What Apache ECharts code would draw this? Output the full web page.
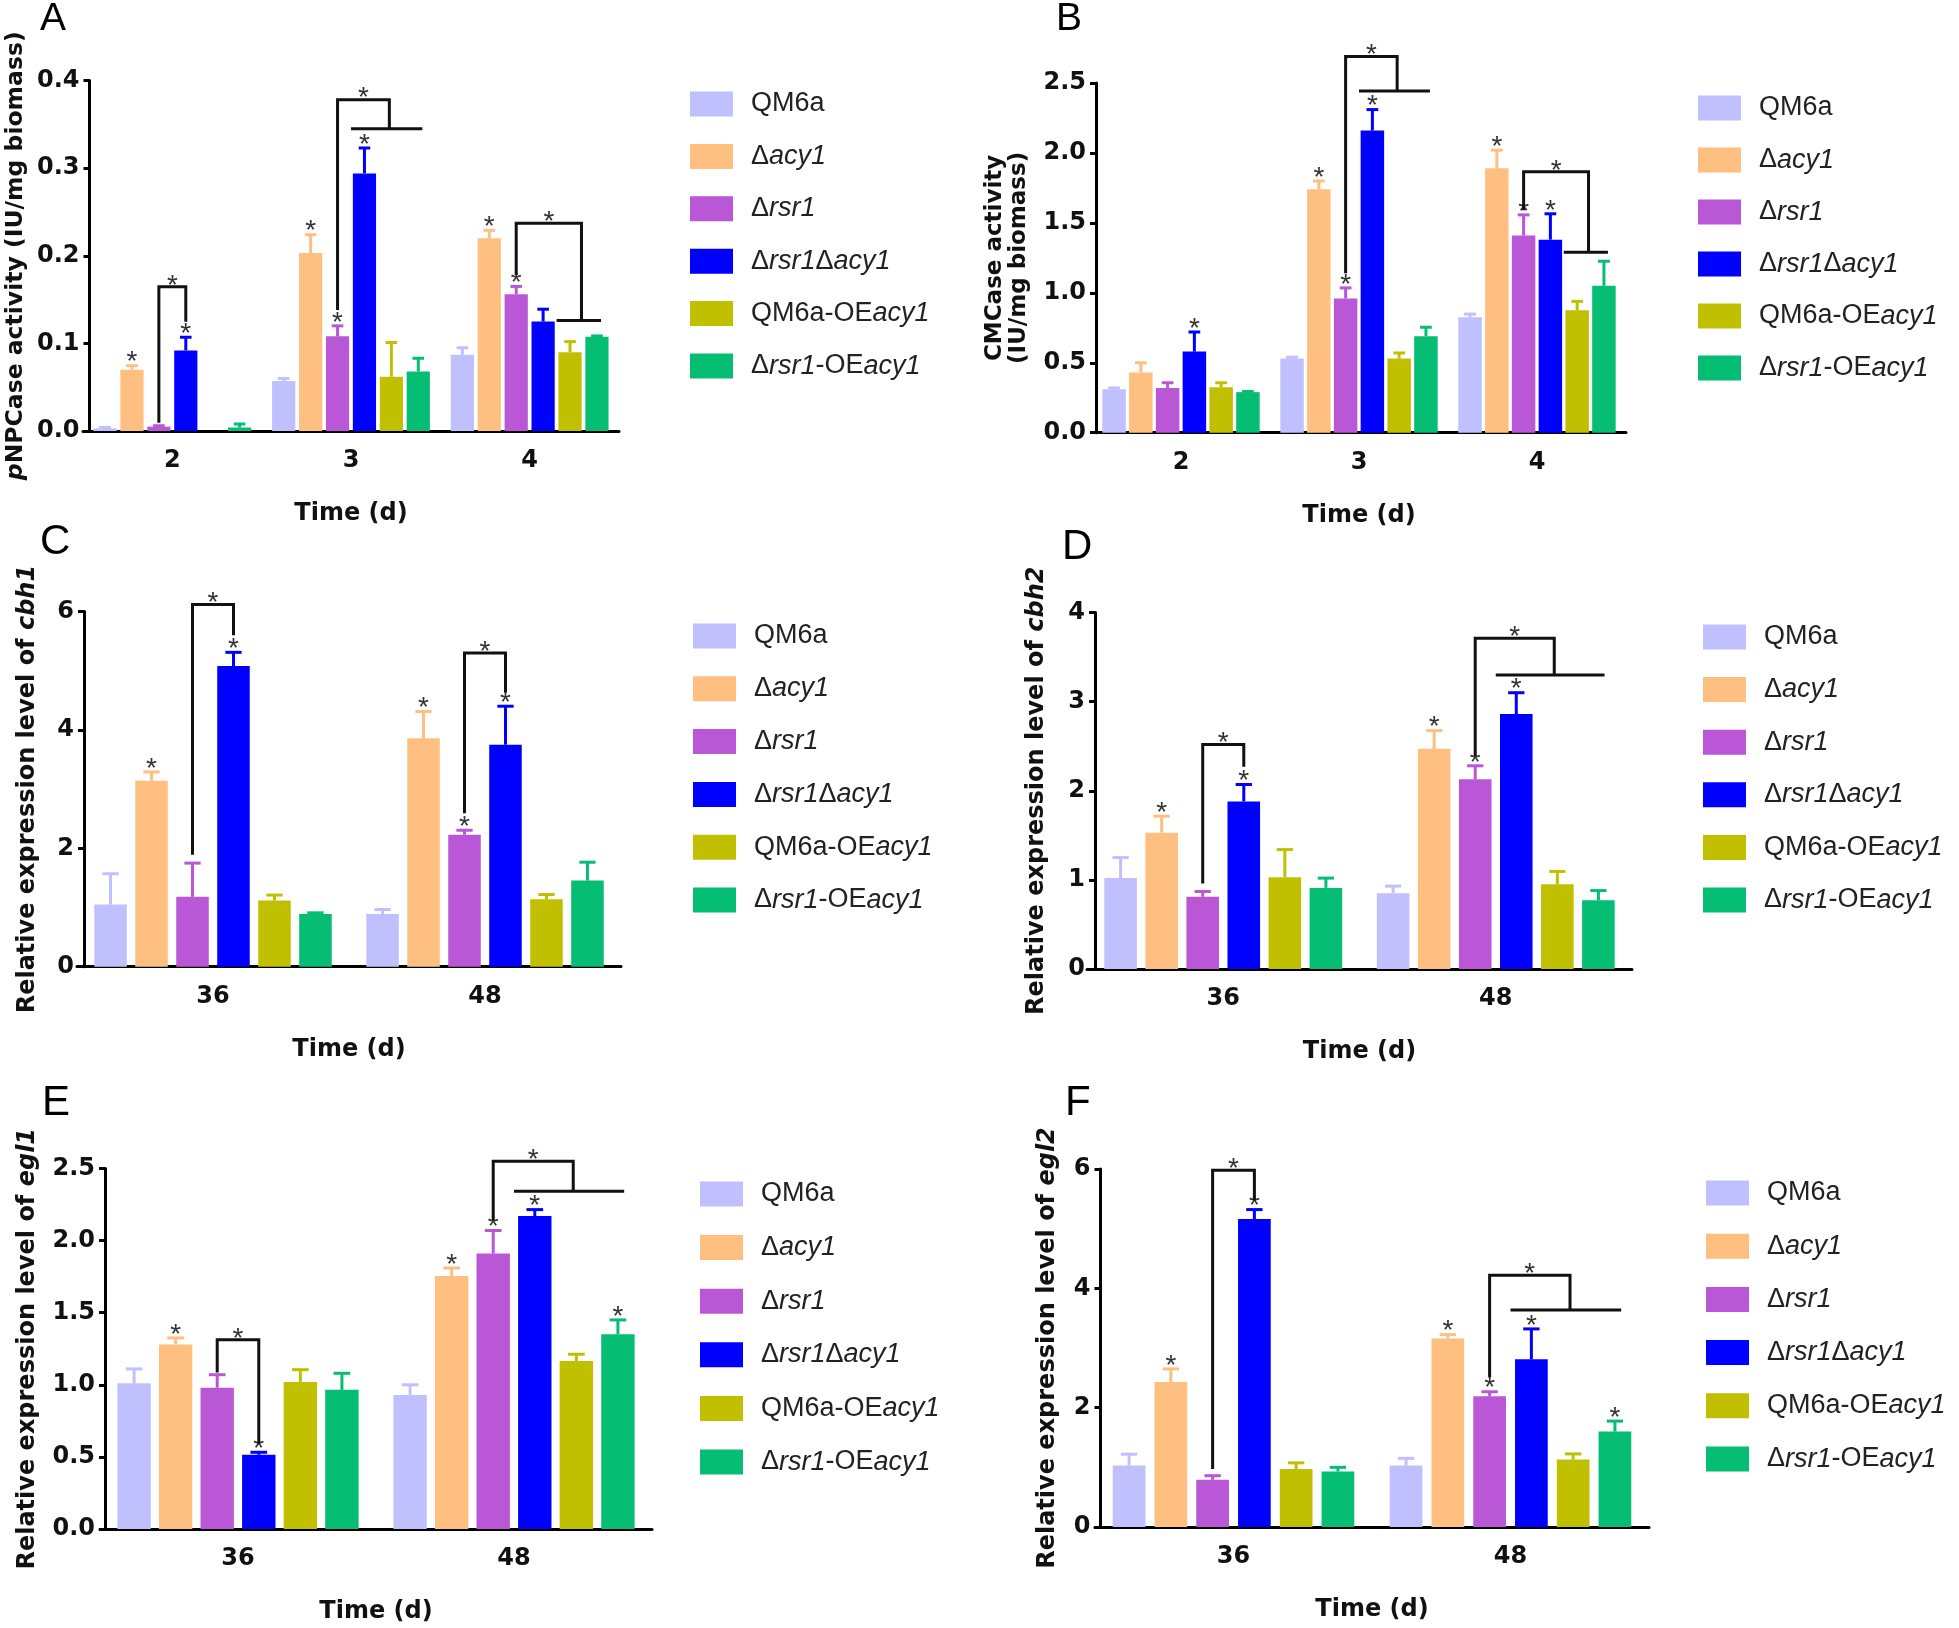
<!DOCTYPE html>
<html><head><meta charset="utf-8">
<script src="https://cdn.jsdelivr.net/npm/echarts@6/dist/echarts.min.js"></script>
<style>html,body{margin:0;padding:0;background:#fff}#c{width:1959px;height:1628px}</style>
</head><body><div id="c"></div>
<script>
// ---------- shared ----------
const SERIES = ['QM6a','Δacy1','Δrsr1','Δrsr1Δacy1','QM6a-OEacy1','Δrsr1-OEacy1'];
const COLORS = ['#C0C0FF','#FFBF80','#B957D7','#0000FF','#C0C000','#05BE74'];
const X_NAME = 'Time (d)';

// ---------- Panel A: pNPCase ----------
const A_categories = ['2','3','4'];
const A_means = [
  [0.003, 0.057, 0.087],
  [0.070, 0.203, 0.220],
  [0.005, 0.108, 0.156],
  [0.092, 0.294, 0.125],
  [0.000, 0.062, 0.090],
  [0.004, 0.068, 0.1075]
];
const A_sd = [
  [0.001, 0.003, 0.008],
  [0.0045, 0.021, 0.009],
  [0.001, 0.012, 0.009],
  [0.015, 0.029, 0.014],
  [0.000, 0.039, 0.012],
  [0.004, 0.015, 0.001]
];
const A_stars = [[0,1],[0,3],[1,1],[1,2],[1,3],[2,1],[2,2]];
const A_brackets = [
  {cat:0, from:2, to:3, top:0.1645, y1:0.0095, y2:0.1246},
  {cat:1, from:2, group:[3,5], top:0.378, y1:0.138, y2:0.345},
  {cat:2, from:2, group:[4,5], top:0.237, y1:0.178, y2:0.126}
];

// ---------- Panel B: CMCase ----------
const B_categories = ['2','3','4'];
const B_means = [
  [0.31, 0.53, 0.825],
  [0.43, 1.74, 1.89],
  [0.32, 0.96, 1.41],
  [0.58, 2.16, 1.38],
  [0.325, 0.53, 0.875],
  [0.29, 0.69, 1.05]
];
const B_sd = [
  [0.01, 0.01, 0.023],
  [0.07, 0.06, 0.13],
  [0.037, 0.075, 0.147],
  [0.14, 0.15, 0.185],
  [0.032, 0.04, 0.064],
  [0.005, 0.064, 0.176]
];
const B_stars = [[0,3],[1,1],[1,2],[1,3],[2,1],[2,2],[2,3]];
const B_brackets = [
  {cat:1, from:2, group:[3,5], top:2.69, y1:1.14, y2:2.443},
  {cat:2, from:2, group:[4,5], top:1.865, y1:1.59, y2:1.29}
];

// ---------- Panel C: cbh1 ----------
const C_categories = ['36','48'];
const C_means = [
  [1.05, 0.89],
  [3.14, 3.86],
  [1.18, 2.23],
  [5.08, 3.75],
  [1.12, 1.14],
  [0.89, 1.455]
];
const C_sd = [
  [0.52, 0.076],
  [0.15, 0.45],
  [0.57, 0.075],
  [0.23, 0.65],
  [0.09, 0.08],
  [0.02, 0.31]
];
const C_stars = [[0,1],[0,3],[1,1],[1,2],[1,3]];
const C_brackets = [
  {cat:0, from:2, to:3, top:6.12, y1:1.89, y2:5.6},
  {cat:1, from:2, to:3, top:5.30, y1:2.59, y2:4.63}
];

// ---------- Panel D: cbh2 ----------
const D_categories = ['36','48'];
const D_means = [
  [1.02, 0.85],
  [1.53, 2.47],
  [0.81, 2.13],
  [1.88, 2.86],
  [1.03, 0.95],
  [0.91, 0.77]
];
const D_sd = [
  [0.23, 0.08],
  [0.185, 0.205],
  [0.06, 0.15],
  [0.19, 0.24],
  [0.31, 0.145],
  [0.11, 0.11]
];
const D_stars = [[0,1],[0,3],[1,1],[1,2],[1,3]];
const D_brackets = [
  {cat:0, from:2, to:3, top:2.52, y1:0.96, y2:2.27},
  {cat:1, from:2, group:[3,5], top:3.71, y1:2.39, y2:3.30}
];

// ---------- Panel E: egl1 ----------
const E_categories = ['36','48'];
const E_means = [
  [1.01, 0.93],
  [1.28, 1.755],
  [0.98, 1.91],
  [0.515, 2.17],
  [1.02, 1.165],
  [0.965, 1.35]
];
const E_sd = [
  [0.10, 0.07],
  [0.045, 0.055],
  [0.09, 0.16],
  [0.017, 0.045],
  [0.085, 0.047],
  [0.115, 0.10]
];
const E_stars = [[0,1],[0,3],[1,1],[1,2],[1,3],[1,5]];
const E_brackets = [
  {cat:0, from:2, to:3, top:1.312, y1:1.086, y2:0.588},
  {cat:1, from:2, group:[3,5], top:2.551, y1:2.143, y2:2.342}
];

// ---------- Panel F: egl2 ----------
const F_categories = ['36','48'];
const F_means = [
  [1.03, 1.03],
  [2.43, 3.16],
  [0.79, 2.19],
  [5.16, 2.81],
  [0.97, 1.13],
  [0.93, 1.6]
];
const F_sd = [
  [0.19, 0.12],
  [0.22, 0.065],
  [0.07, 0.077],
  [0.16, 0.51],
  [0.105, 0.095],
  [0.07, 0.175]
];
const F_stars = [[0,1],[0,3],[1,1],[1,2],[1,3],[1,5]];
const F_brackets = [
  {cat:0, from:2, to:3, top:5.98, y1:0.97, y2:5.47},
  {cat:1, from:2, group:[3,5], top:4.22, y1:2.51, y2:3.635}
];

// ---------- layout ----------
const FONT = "'Liberation Sans', Arial, Helvetica, sans-serif";
const AXFONT = "'DejaVu Sans', Verdana, sans-serif";
const panels = [
  {letter:'A', cats:A_categories, means:A_means, sd:A_sd, stars:A_stars, brackets:A_brackets,
   yMax:0.4, yStep:0.1, dec:1, yName:'{i|p}NPCase activity (IU/mg biomass)', yGap:62, yFs:23.5, yOff:-6.5,
   grid:{left:83, top:80.5, width:536, height:350.5}, cg:0.117, bg:0.16,
   legend:{left:690, top:90.5, gap:25.4}, lp:{left:40, top:0, fs:39}},
  {letter:'B', cats:B_categories, means:B_means, sd:B_sd, stars:B_stars, brackets:B_brackets,
   yMax:2.5, yStep:0.5, dec:1, yName:'CMCase activity\n(IU/mg biomass)', yGap:65, yFs:23, yOff:-4,
   grid:{left:1092, top:83, width:534, height:349.7}, cg:0.116, bg:0.14,
   legend:{left:1698, top:94.5, gap:25}, lp:{left:1056, top:0, fs:39}},
  {letter:'C', cats:C_categories, means:C_means, sd:C_sd, stars:C_stars, brackets:C_brackets,
   yMax:6, yStep:2, dec:0, yName:'Relative expression level of {i|cbh1}', yGap:44, yFs:24, yOff:-7,
   grid:{left:77, top:611.5, width:544, height:355.2}, cg:0.127, bg:0.26,
   legend:{left:693, top:622.5, gap:25.8}, lp:{left:40, top:521, fs:42}},
  {letter:'D', cats:D_categories, means:D_means, sd:D_sd, stars:D_stars, brackets:D_brackets,
   yMax:4, yStep:1, dec:0, yName:'Relative expression level of {i|cbh2}', yGap:46, yFs:24, yOff:-8,
   grid:{left:1087, top:612.5, width:545, height:356.5}, cg:0.127, bg:0.26,
   legend:{left:1703, top:623.5, gap:25.6}, lp:{left:1062, top:526, fs:42}},
  {letter:'E', cats:E_categories, means:E_means, sd:E_sd, stars:E_stars, brackets:E_brackets,
   yMax:2.5, yStep:0.5, dec:1, yName:'Relative expression level of {i|egl1}', yGap:65, yFs:24, yOff:-5,
   grid:{left:100, top:1168.5, width:552, height:360.5}, cg:0.126, bg:0.245,
   legend:{left:700, top:1180.5, gap:26.6}, lp:{left:42, top:1082, fs:42}},
  {letter:'F', cats:F_categories, means:F_means, sd:F_sd, stars:F_stars, brackets:F_brackets,
   yMax:6, yStep:2, dec:0, yName:'Relative expression level of {i|egl2}', yGap:41, yFs:24, yOff:-5.5,
   grid:{left:1095, top:1169, width:554, height:358}, cg:0.128, bg:0.277,
   legend:{left:1706, top:1179.5, gap:26.2}, lp:{left:1065, top:1082, fs:42}}
];

const LEGEND_FMT = {
  'QM6a': '{n|QM6a}',
  'Δacy1': '{n|Δ}{i|acy1}',
  'Δrsr1': '{n|Δ}{i|rsr1}',
  'Δrsr1Δacy1': '{n|Δ}{i|rsr1}{n|Δ}{i|acy1}',
  'QM6a-OEacy1': '{n|QM6a-OE}{i|acy1}',
  'Δrsr1-OEacy1': '{n|Δ}{i|rsr1}{n|-OE}{i|acy1}'
};

const option = {
  animation:false, backgroundColor:'#fff',
  title:[], grid:[], xAxis:[], yAxis:[], legend:[], series:[]
};

panels.forEach((p, pi) => {
  option.title.push({text:p.letter, left:p.lp.left, top:p.lp.top, padding:0,
    textStyle:{fontSize:p.lp.fs, fontWeight:'normal', color:'#000', fontFamily:FONT}});
  option.grid.push(Object.assign({containLabel:false}, p.grid));
  option.xAxis.push({
    type:'category', gridIndex:pi, data:p.cats,
    axisLine:{lineStyle:{color:'#000', width:3}},
    axisTick:{alignWithLabel:true, length:8, lineStyle:{color:'#000', width:3}},
    axisLabel:{fontSize:24, fontWeight:'bold', color:'#111', margin:18, fontFamily:AXFONT},
    name:X_NAME, nameLocation:'middle', nameGap:71, nameMoveOverlap:false,
    nameTextStyle:{fontSize:24, fontWeight:'bold', color:'#111', fontFamily:AXFONT}
  });
  option.yAxis.push({
    type:'value', gridIndex:pi, min:0, max:p.yMax, interval:p.yStep, offset:p.yOff,
    axisLine:{show:true, lineStyle:{color:'#000', width:3}},
    axisTick:{show:true, length:6, lineStyle:{color:'#000', width:3}},
    splitLine:{show:false},
    axisLabel:{fontSize:24, fontWeight:'bold', color:'#111', margin:10, fontFamily:AXFONT,
      formatter: v => v.toFixed(p.dec)},
    name:p.yName, nameLocation:'middle', nameGap:p.yGap, nameMoveOverlap:false,
    nameTextStyle:{fontSize:p.yFs, fontWeight:'bold', color:'#111', fontFamily:AXFONT, lineHeight:24,
      rich:{i:{fontSize:p.yFs, fontWeight:'bold', fontStyle:'italic', color:'#111', fontFamily:AXFONT, lineHeight:24}}}
  });
  option.legend.push({
    orient:'vertical', left:p.legend.left, top:p.legend.top, padding:0,
    itemWidth:43, itemHeight:25, itemGap:p.legend.gap, icon:'rect', selectedMode:false,
    data:SERIES.slice(),
    formatter: name => LEGEND_FMT[name],
    textStyle:{fontSize:27, color:'#222', fontFamily:FONT, padding:[0,0,0,13], lineHeight:25,
      rich:{
        n:{fontSize:27, color:'#222', fontFamily:FONT, lineHeight:25},
        i:{fontSize:27, color:'#222', fontFamily:FONT, fontStyle:'italic', lineHeight:25}
      }}
  });
  SERIES.forEach((name, k) => {
    option.series.push({
      type:'bar', name:name, xAxisIndex:pi, yAxisIndex:pi,
      data:p.means[k], itemStyle:{color:COLORS[k]},
      barCategoryGap:(p.cg*100)+'%', barGap:(p.bg*100)+'%',
      emphasis:{disabled:true}, z:2
    });
  });
  // error bars, asterisks and significance brackets
  option.series.push({
    type:'custom', xAxisIndex:pi, yAxisIndex:pi, silent:true, clip:false, z:5,
    data:p.cats.map((c, i) => [i, 0]),
    encode:{x:0, y:1},
    renderItem:(params, api) => {
      const ci = api.value(0);
      const cx = api.coord([ci, 0])[0];
      const band = api.size([1, 0])[0];
      const bw = band * (1 - p.cg) / (6 + 5 * p.bg);
      const pitch = bw * (1 + p.bg);
      const start = cx - (6 * bw + 5 * bw * p.bg) / 2 + bw / 2;
      const bx = k => start + k * pitch;
      const py = v => api.coord([ci, v])[1];
      const ch = [];
      const line = (pts, color, w) => ch.push({type:'polyline', shape:{points:pts},
        style:{stroke:color, lineWidth:w, fill:null, lineCap:'butt', lineJoin:'miter'}});
      const star = (x, y) => ch.push({type:'text', style:{text:'*', x:x, y:y,
        align:'center', verticalAlign:'middle', fill:'#333', font:'28px ' + FONT}});
      for (let k = 0; k < 6; k++) {
        const m = p.means[k][ci], s = p.sd[k][ci];
        if (s > 0) {
          const x = bx(k), yt = py(m + s), cap = bw * 0.25;
          line([[x, py(m)], [x, yt]], COLORS[k], 3);
          line([[x - cap, yt], [x + cap, yt]], COLORS[k], 3);
        }
      }
      p.stars.forEach(([c, k]) => {
        if (c !== ci) return;
        const top = p.means[k][c] + p.sd[k][c];
        star(bx(k), py(top) - 3);
      });
      p.brackets.forEach(b => {
        if (b.cat !== ci) return;
        const xl = bx(b.from), yT = py(b.top);
        if (b.group) {
          const g1 = bx(b.group[0]) - 0.5 * pitch, g2 = bx(b.group[1]) + 0.15 * pitch;
          const xd = (g1 + g2) / 2 + 0.1 * pitch;
          line([[xl, py(b.y1)], [xl, yT], [xd, yT], [xd, py(b.y2)]], '#111', 3);
          line([[g1, py(b.y2)], [g2, py(b.y2)]], '#111', 3);
          star((xl + xd) / 2, yT - 1);
        } else {
          const xr = bx(b.to);
          line([[xl, py(b.y1)], [xl, yT], [xr, yT], [xr, py(b.y2)]], '#111', 3);
          star((xl + xr) / 2, yT - 1);
        }
      });
      return {type:'group', children:ch};
    }
  });
});

const chart = echarts.init(document.getElementById('c'), null, {renderer:'canvas'});
chart.setOption(option);
</script>
</body></html>
